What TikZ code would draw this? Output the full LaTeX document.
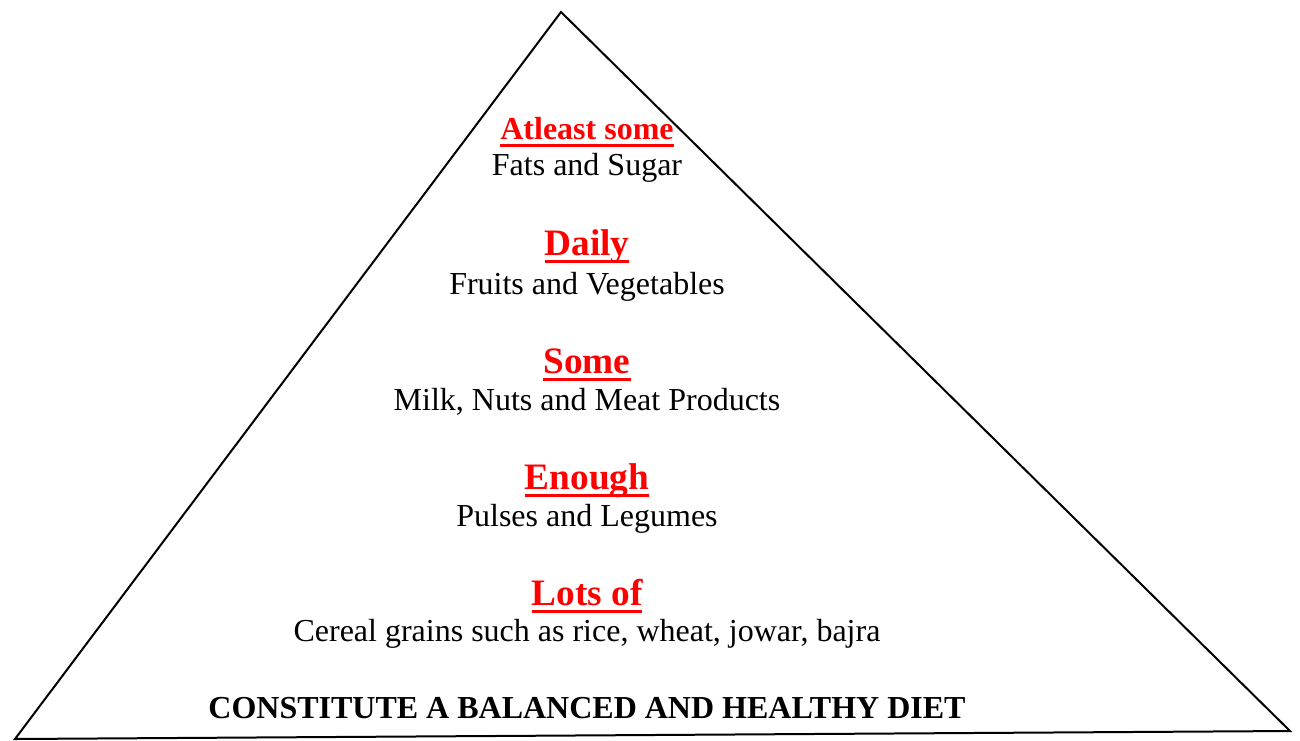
\documentclass[tikz,border=0pt]{standalone}
\usepackage{fontspec}
\setmainfont{Liberation Serif}
\usetikzlibrary{positioning}
\definecolor{amountred}{RGB}{255,0,0}
\newcommand{\redunder}[1]{\setbox0=\hbox{#1}\rlap{\vrule width\wd0 height -5pt depth 8pt}\box0}
\tikzstyle{every level} = [anchor=base, inner sep=0pt]
\tikzstyle{amount} = [text=amountred, font=\fontsize{37.3}{44}\selectfont\bfseries, every level]
\tikzstyle{food} = [font=\fontsize{32}{38}\selectfont, every level]

\begin{document}
\begin{tikzpicture}[x=1pt, y=-1pt]
  \useasboundingbox (0,0) rectangle (1300,740);
  \coordinate (apex) at (561,12);
  \coordinate (baseleft) at (15,739);
  \coordinate (baseright) at (1290,731);
  \draw[line width=2pt, line join=miter] (apex) -- (baseleft) -- (baseright) -- cycle;

  % levels of the pyramid, top to bottom
  \node[amount, font=\fontsize{32}{38}\selectfont\bfseries] (atleast) at (587,139) {\redunder{Atleast some}};
  \node[food] (fats) at (587,175) {Fats and Sugar};

  \node[amount] (daily) at (587,255) {\redunder{Daily}};
  \node[food] (fruits) at (587,294) {Fruits and Vegetables};

  \node[amount] (some) at (587,373) {\redunder{Some}};
  \node[food] (milk) at (587,410) {Milk, Nuts and Meat Products};

  \node[amount] (enough) at (587,489) {\redunder{Enough}};
  \node[food] (pulses) at (587,526) {Pulses and Legumes};

  \node[amount] (lotsof) at (587,605) {\redunder{Lots of}};
  \node[food] (cereal) at (587,641) {Cereal grains such as rice, wheat, jowar, bajra};

  \node[food, font=\fontsize{32}{38}\selectfont\bfseries] (diet) at (587,718) {CONSTITUTE A BALANCED AND HEALTHY DIET};
\end{tikzpicture}
\end{document}
